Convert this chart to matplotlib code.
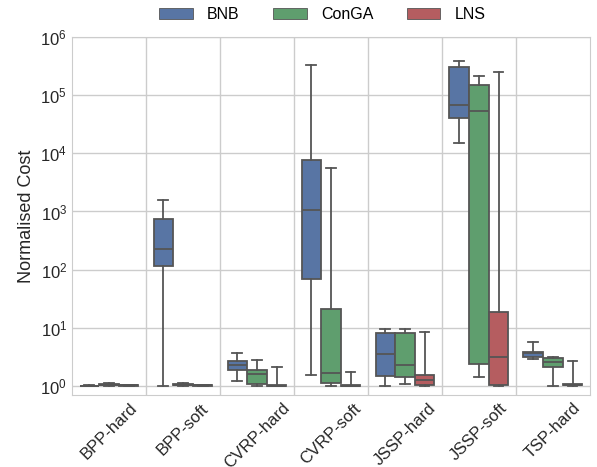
import matplotlib
matplotlib.use("Agg")
import matplotlib.pyplot as plt
from matplotlib.patches import Patch
import numpy as np

plt.rcParams['font.family'] = ['Liberation Sans', 'DejaVu Sans']

categories = ['BPP-hard', 'BPP-soft', 'CVRP-hard', 'CVRP-soft',
              'JSSP-hard', 'JSSP-soft', 'TSP-hard']
methods = ['BNB', 'ConGA', 'LNS']
colors = ['#5875A4', '#5F9E6E', '#B55D60']

# per method: whisker low, q1, median, q3, whisker high (one value per category)
bnb_whislo = [1.0, 1.0, 1.22, 1.55, 1.0, 1.5e4, 2.9]
bnb_q1 = [1.0, 115, 1.9, 68, 1.48, 4.1e4, 3.1]
bnb_med = [1.0, 224, 2.3, 1040, 3.5, 6.9e4, 3.7]
bnb_q3 = [1.01, 730, 2.7, 7800, 8.1, 3.0e5, 3.9]
bnb_whishi = [1.02, 1550, 3.7, 3.3e5, 9.5, 3.9e5, 5.7]

conga_whislo = [1.0, 1.0, 1.0, 1.0, 1.1, 1.4, 1.0]
conga_q1 = [1.02, 1.02, 1.08, 1.12, 1.45, 2.4, 2.1]
conga_med = [1.05, 1.05, 1.6, 1.67, 2.3, 5.4e4, 2.6]
conga_q3 = [1.08, 1.08, 1.88, 21, 8.1, 1.5e5, 3.0]
conga_whishi = [1.12, 1.13, 2.8, 5500, 9.4, 2.1e5, 3.15]

lns_whislo = [1.0, 1.0, 1.0, 1.0, 1.0, 1.0, 1.0]
lns_q1 = [1.01, 1.01, 1.0, 1.0, 1.03, 1.03, 1.03]
lns_med = [1.02, 1.02, 1.01, 1.01, 1.25, 3.1, 1.05]
lns_q3 = [1.04, 1.04, 1.03, 1.05, 1.55, 18.6, 1.1]
lns_whishi = [1.06, 1.06, 2.1, 1.75, 8.4, 2.5e5, 2.7]

series = [
    (bnb_whislo, bnb_q1, bnb_med, bnb_q3, bnb_whishi),
    (conga_whislo, conga_q1, conga_med, conga_q3, conga_whishi),
    (lns_whislo, lns_q1, lns_med, lns_q3, lns_whishi),
]

fig = plt.figure(figsize=(5.97, 4.67), dpi=100)
ax = fig.add_axes([0.1206, 0.1542, 0.8674, 0.7666])

grey = '#555555'
w = 0.8 / 3
for j, (lo, q1, med, q3, hi) in enumerate(series):
    stats = []
    for i in range(len(categories)):
        stats.append(dict(whislo=lo[i], q1=q1[i], med=med[i], q3=q3[i],
                          whishi=hi[i], fliers=[]))
    pos = np.arange(len(categories)) + (j - 1) * w
    ax.bxp(stats, positions=pos, widths=w * 0.98, patch_artist=True,
           showfliers=False, manage_ticks=False,
           boxprops=dict(facecolor=colors[j], edgecolor=grey, linewidth=1.3),
           medianprops=dict(color=grey, linewidth=1.3),
           whiskerprops=dict(color=grey, linewidth=1.3),
           capprops=dict(color=grey, linewidth=1.3))

ax.set_yscale('log')
ax.set_ylim(0.7, 1e6)
ax.set_xlim(-0.5, len(categories) - 0.5)
ax.set_xticks(np.arange(len(categories)))
ax.set_xticklabels(categories, rotation=45, fontsize=12)
ax.set_xticks(np.arange(len(categories) - 1) + 0.5, minor=True)
ax.yaxis.set_minor_locator(matplotlib.ticker.NullLocator())
ax.tick_params(axis='both', which='both', length=0, labelsize=12, colors='#262626')
ax.tick_params(axis='x', which='major', pad=4)
ax.grid(False, axis='x', which='major')
ax.grid(True, axis='x', which='minor', color='#cccccc', linewidth=1)
ax.grid(True, axis='y', which='major', color='#cccccc', linewidth=1)
ax.set_axisbelow(True)
for s in ax.spines.values():
    s.set_color('#cccccc')
ax.set_ylabel('Normalised Cost', fontsize=13, color='#262626')

handles = [Patch(facecolor=c, edgecolor=grey, linewidth=0.6) for c in colors]
fig.legend(handles, methods, loc='center', bbox_to_anchor=(0.54, 0.968),
           ncol=3, frameon=False, fontsize=11.5, handlelength=2.1,
           handletextpad=0.9, columnspacing=2.1)

fig.savefig('out.png', dpi=100)
